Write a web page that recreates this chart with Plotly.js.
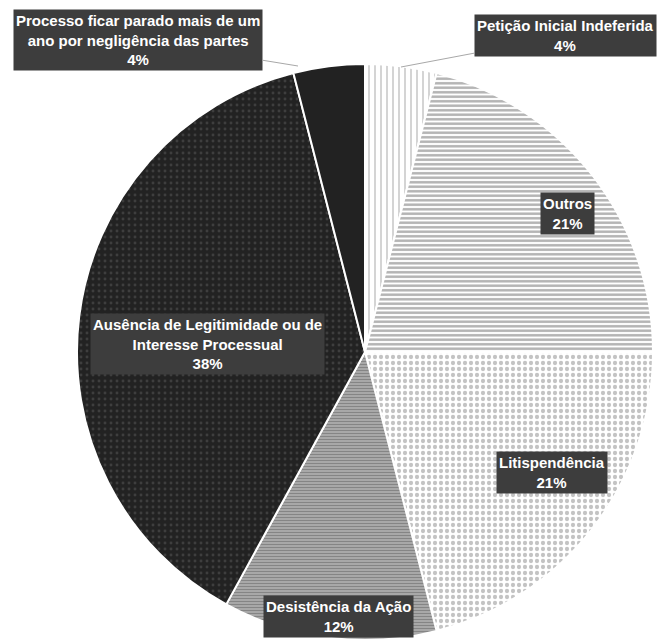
<!DOCTYPE html>
<html>
<head>
<meta charset="utf-8">
<script src="https://cdn.plot.ly/plotly-3.0.1.min.js"></script>
<style>
  html, body { margin: 0; padding: 0; background: #fff; }
  #chart { width: 663px; height: 642px; }
</style>
</head>
<body>
<div id="chart"></div>
<script>
// Motivos de extinção — share of each reason (%), clockwise from 12 o'clock
const categories = [
  'Petição Inicial Indeferida',
  'Outros',
  'Litispendência',
  'Desistência da Ação',
  'Ausência de Legitimidade ou de Interesse Processual',
  'Processo ficar parado mais de um ano por negligência das partes'
];
const shares = [4, 21, 21, 12, 38, 4];

// Wrapped versions of the names as they appear in the label boxes
const wrappedNames = [
  'Petição Inicial Indeferida',
  'Outros',
  'Litispendência',
  'Desistência da Ação',
  'Ausência de Legitimidade ou de<br>Interesse Processual',
  'Processo ficar parado mais de um<br>ano por negligência das partes'
];

// Fill pattern for each slice
const patterns = [
  { shape: '|', fgcolor: '#a0a0a0', bgcolor: '#ffffff', size: 6, solidity: 0.3 },
  { shape: '-', fgcolor: '#666666', bgcolor: '#ffffff', size: 4.5, solidity: 0.55 },
  { shape: '.', fgcolor: '#888888', bgcolor: '#ffffff', size: 6, solidity: 0.4 },
  { shape: '-', fgcolor: '#555555', bgcolor: '#b4b4b4', size: 3, solidity: 0.5 },
  { shape: '.', fgcolor: '#5a5a5a', bgcolor: '#222222', size: 6, solidity: 0.18 },
  { shape: '',  fgcolor: '#222222', bgcolor: '#222222', size: 6, solidity: 0.3 }
];

const W = 663, H = 642;
const px = x => x / W;
const py = y => 1 - y / H;

// Label box placement (pixel centres); leader lines for the two small slices
const labelSpots = [
  { cx: 565, cy: 36, hx: 401, hy: 67 },
  { cx: 567, cy: 213 },
  { cx: 552, cy: 472 },
  { cx: 338, cy: 616 },
  { cx: 207, cy: 344 },
  { cx: 138, cy: 40, hx: 298, hy: 66 }
];

const annotations = categories.map((c, i) => {
  const s = labelSpots[i];
  const a = {
    text: wrappedNames[i] + '<br>' + shares[i] + '%',
    xref: 'paper', yref: 'paper',
    xanchor: 'center', yanchor: 'middle',
    font: { family: 'Liberation Sans, Arial, sans-serif', size: 15, color: '#ffffff', weight: 'bold' },
    bgcolor: '#3d3d3d',
    borderpad: 2,
    align: 'center'
  };
  if (s.hx !== undefined) {
    a.x = px(s.hx); a.y = py(s.hy);
    a.showarrow = true;
    a.arrowhead = 0;
    a.arrowwidth = 1;
    a.arrowcolor = '#a8a8a8';
    a.standoff = 0;
    a.axref = 'pixel'; a.ayref = 'pixel';
    a.ax = s.cx - s.hx; a.ay = s.cy - s.hy;
  } else {
    a.x = px(s.cx); a.y = py(s.cy);
    a.showarrow = false;
  }
  return a;
});

const trace = {
  type: 'pie',
  labels: categories,
  values: shares,
  sort: false,
  direction: 'clockwise',
  rotation: 0,
  textinfo: 'none',
  hoverinfo: 'label+percent',
  showlegend: false,
  domain: { x: [px(77), px(653)], y: [py(640), py(64)] },
  marker: {
    colors: patterns.map(p => p.bgcolor),
    line: { color: '#ffffff', width: 2 },
    pattern: {
      shape: patterns.map(p => p.shape),
      fgcolor: patterns.map(p => p.fgcolor),
      bgcolor: patterns.map(p => p.bgcolor),
      size: patterns.map(p => p.size),
      solidity: patterns.map(p => p.solidity),
      fillmode: 'overlay'
    }
  }
};

const layout = {
  width: W, height: H,
  margin: { l: 0, r: 0, t: 0, b: 0 },
  paper_bgcolor: '#ffffff',
  annotations: annotations
};

Plotly.newPlot('chart', [trace], layout, { displayModeBar: false, staticPlot: true });
</script>
</body>
</html>
